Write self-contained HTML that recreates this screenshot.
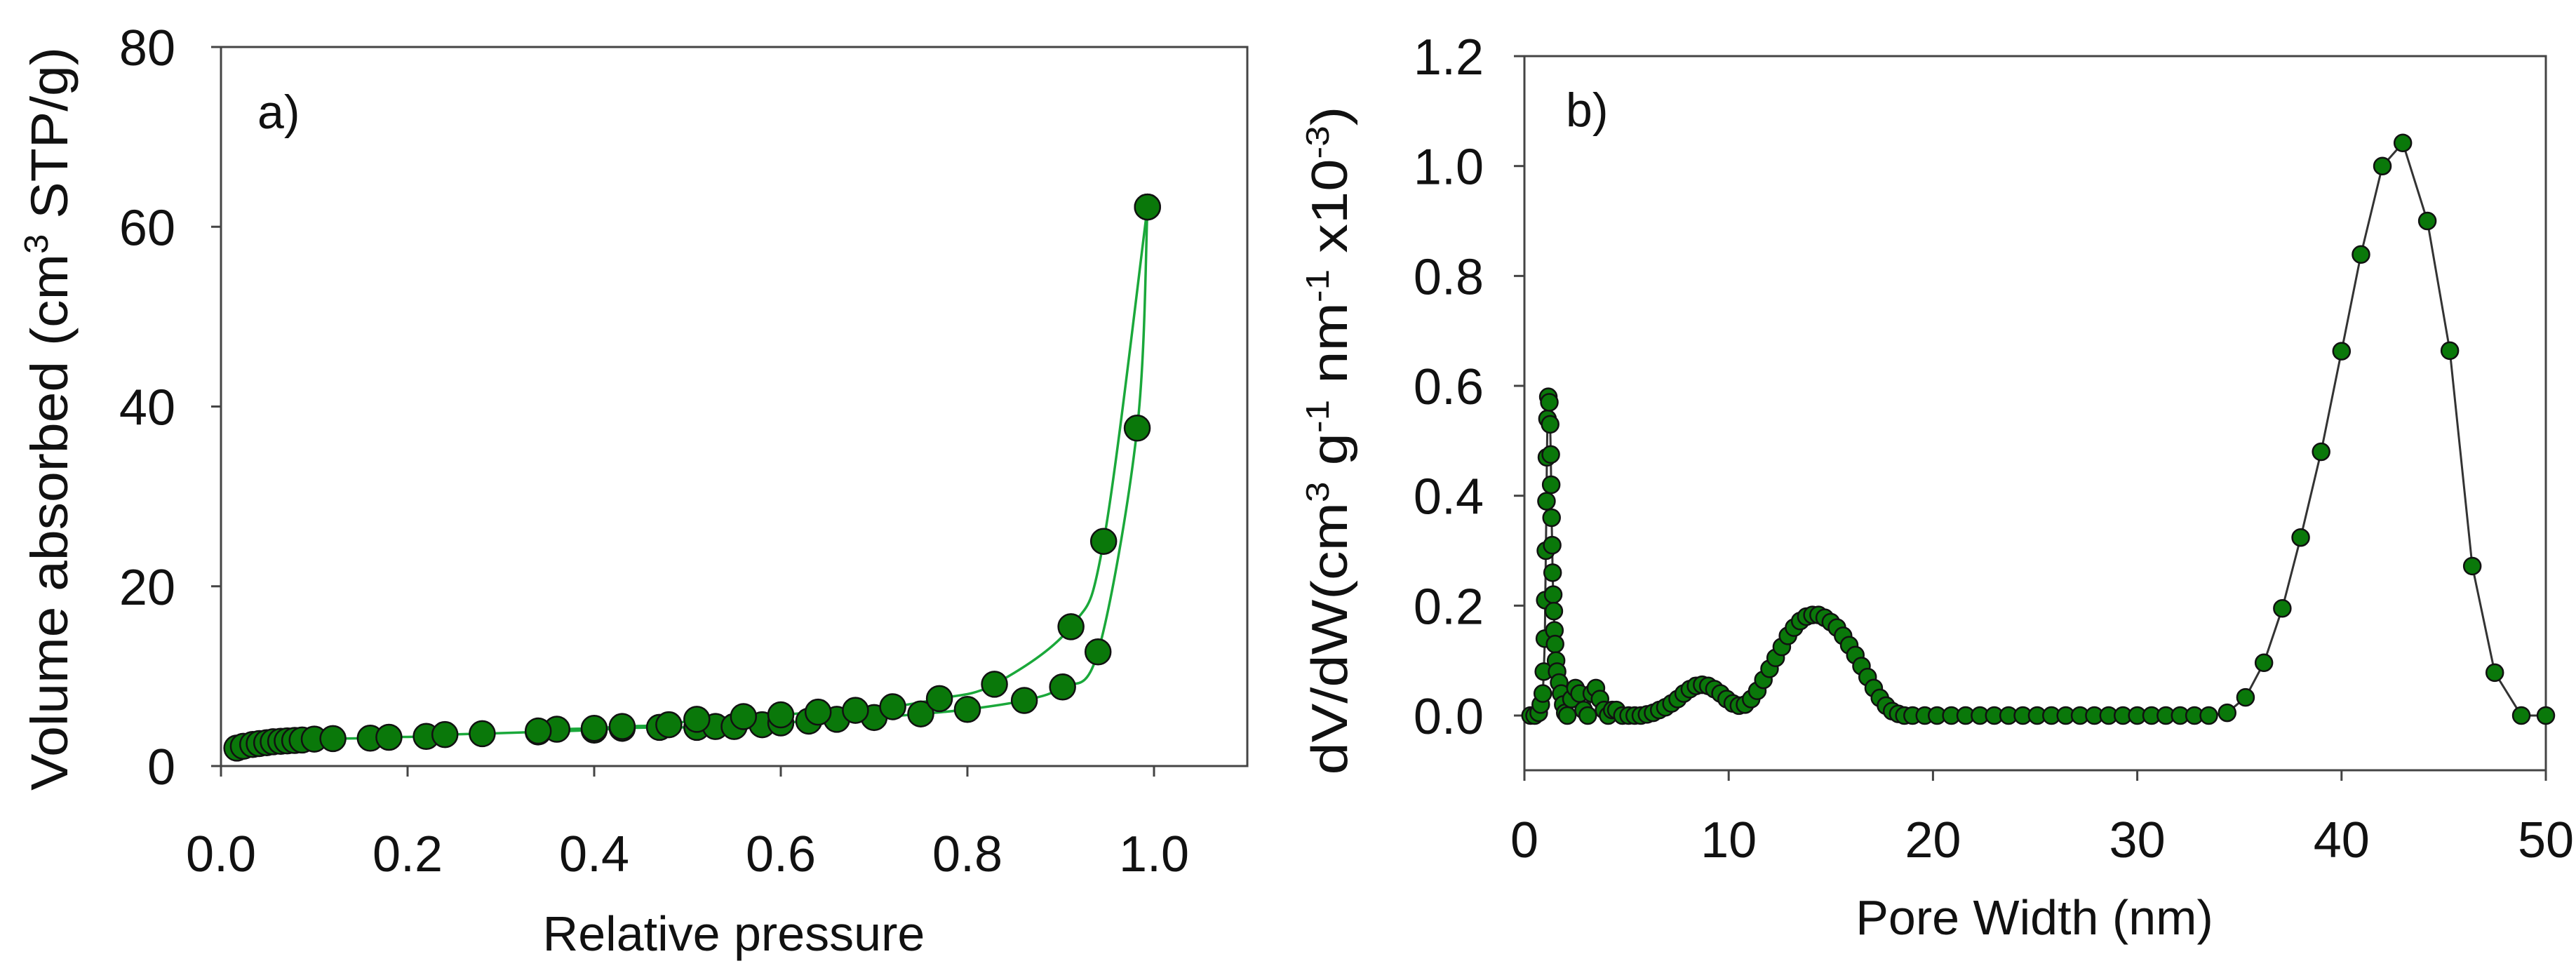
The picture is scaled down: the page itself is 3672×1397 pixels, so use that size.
<!DOCTYPE html>
<html><head><meta charset="utf-8">
<style>
html,body{margin:0;padding:0;background:#fff;}
svg{display:block;font-family:"Liberation Sans",Arial,sans-serif;}
</style></head>
<body>
<svg id="chart" width="3672" height="1397" viewBox="0 0 3672 1397" xmlns="http://www.w3.org/2000/svg">
<rect width="3672" height="1397" fill="#fff"/>
<g id="pa"></g>
<g id="pb"></g>
</svg>
<script>
// ---- Panel a data ----
const adsX = [0.017,0.024,0.034,0.041,0.049,0.056,0.064,0.071,0.079,0.087,0.10,0.12,0.16,0.18,0.22,0.24,0.28,0.34,0.40,0.43,0.47,0.51,0.53,0.55,0.58,0.60,0.63,0.66,0.70,0.75,0.80,0.861,0.902,0.940,0.982,0.993];
const adsY = [2.0,2.2,2.4,2.5,2.6,2.7,2.75,2.8,2.85,2.9,3.0,3.05,3.1,3.2,3.3,3.5,3.6,3.8,4.0,4.2,4.3,4.3,4.4,4.4,4.6,4.8,5.0,5.2,5.4,5.8,6.3,7.3,8.8,12.7,37.6,62.2];
const desX = [0.993,0.946,0.911,0.829,0.77,0.72,0.68,0.64,0.60,0.56,0.51,0.48,0.43,0.40,0.36,0.34];
const desY = [62.2,25,15.5,9.1,7.5,6.6,6.2,6.0,5.7,5.5,5.2,4.6,4.4,4.2,4.1,3.9];
const aXTicks = ["0.0","0.2","0.4","0.6","0.8","1.0"];
const aYTicks = ["0","20","40","60","80"];
// ---- Panel b data ----
const poreW = [0.3,0.5,0.7,0.8,0.9,0.95,1.0,1.02,1.05,1.08,1.1,1.13,1.17,1.22,1.26,1.29,1.31,1.33,1.36,1.38,1.41,1.44,1.47,1.5,1.55,1.6,1.7,1.8,1.9,2.0,2.1,2.3,2.5,2.7,2.9,3.1,3.3,3.5,3.7,3.9,4.1,4.3,4.5,4.8,5.1,5.4,5.7,6.0,6.3,6.6,6.9,7.2,7.5,7.8,8.1,8.4,8.7,9.0,9.3,9.6,9.9,10.2,10.5,10.8,11.1,11.4,11.7,12.0,12.3,12.6,12.9,13.2,13.5,13.8,14.1,14.4,14.7,15.0,15.3,15.6,15.9,16.2,16.5,16.8,17.1,17.4,17.7,18.0,18.3,18.6,19.0,19.6,20.2,20.9,21.6,22.3,23.0,23.7,24.4,25.1,25.8,26.5,27.2,27.9,28.6,29.3,30.0,30.7,31.4,32.1,32.8,33.5,34.4,35.3,36.2,37.1,38.0,39.0,40.0,40.95,42.0,43.0,44.2,45.3,46.4,47.5,48.8,50.0];
const dVdW = [0,0,0.005,0.02,0.04,0.08,0.14,0.21,0.3,0.39,0.47,0.54,0.58,0.57,0.53,0.475,0.42,0.36,0.31,0.26,0.22,0.19,0.155,0.13,0.1,0.08,0.06,0.04,0.02,0.005,0,0.03,0.05,0.04,0.01,0,0.04,0.05,0.03,0.01,0,0.01,0.01,0,0,0,0,0.002,0.005,0.01,0.015,0.022,0.03,0.04,0.048,0.054,0.056,0.054,0.048,0.04,0.03,0.022,0.018,0.02,0.03,0.045,0.065,0.085,0.105,0.125,0.145,0.16,0.172,0.18,0.183,0.183,0.178,0.17,0.16,0.145,0.128,0.11,0.09,0.07,0.05,0.032,0.018,0.008,0.003,0,0,0,0,0,0,0,0,0,0,0,0,0,0,0,0,0,0,0,0,0,0,0,0.005,0.033,0.096,0.195,0.324,0.48,0.663,0.839,1.0,1.042,0.90,0.664,0.272,0.078,0,0];
const bXTicks = ["0","10","20","30","40","50"];
const bYTicks = ["0.0","0.2","0.4","0.6","0.8","1.0","1.2"];

const NS="http://www.w3.org/2000/svg";
function mk(parent,tag,attrs,text){const e=document.createElementNS(NS,tag);for(const k in attrs)e.setAttribute(k,attrs[k]);if(text!==undefined)e.textContent=text;parent.appendChild(e);return e;}
function spline(pts){let d="M"+pts[0][0]+","+pts[0][1];for(let i=0;i<pts.length-1;i++){const p0=pts[Math.max(0,i-1)],p1=pts[i],p2=pts[i+1],p3=pts[Math.min(pts.length-1,i+2)];const t=0.5/3;const c1=[p1[0]+(p2[0]-p0[0])*t,p1[1]+(p2[1]-p0[1])*t];const c2=[p2[0]-(p3[0]-p1[0])*t,p2[1]-(p3[1]-p1[1])*t];d+=" C"+c1[0]+","+c1[1]+" "+c2[0]+","+c2[1]+" "+p2[0]+","+p2[1];}return d;}

// ---- Panel a ----
(function(){
const g=document.getElementById('pa');
const L=315,R=1778,T=67,B=1092;
const xs=v=>L+v/1.1*(R-L), ys=v=>B-v/80*(B-T);
const frame=mk(g,'rect',{x:L,y:T,width:R-L,height:B-T,fill:'none',stroke:'#444','stroke-width':3});


aXTicks.forEach(t=>{const x=xs(parseFloat(t));
 const tk=mk(g,'line',{x1:x,y1:B,x2:x,y2:B+15,stroke:'#444','stroke-width':3});
 
 const lb=mk(g,'text',{x:x,y:1242,'font-size':72,'text-anchor':'middle',fill:'#111'},t);
 });
aYTicks.forEach(t=>{const y=ys(parseFloat(t));
 const tk=mk(g,'line',{x1:L-14,y1:y,x2:L,y2:y,stroke:'#444','stroke-width':3});
 
 const lb=mk(g,'text',{x:250,y:y+26,'font-size':72,'text-anchor':'end',fill:'#111'},t);
 });
const xt=mk(g,'text',{x:1046,y:1355,'font-size':70,'text-anchor':'middle',fill:'#111'},'Relative pressure');

const yt=mk(g,'text',{transform:'translate(96,597) rotate(-90)','font-size':74,'text-anchor':'middle',fill:'#111','xml:space':'preserve',textLength:1060,lengthAdjust:'spacingAndGlyphs'});

yt.innerHTML='Volume  absorbed (cm<tspan font-size="48" dy="-28">3</tspan><tspan dy="28"> STP/g)</tspan>';
const pl=mk(g,'text',{x:367,y:183,'font-size':68,fill:'#111'},'a)');

const aP=adsX.map((v,i)=>[xs(v),ys(adsY[i])]);
const dP=desX.map((v,i)=>[xs(v),ys(desY[i])]);
const l1=mk(g,'path',{d:spline(aP),fill:'none',stroke:'#1aa83a','stroke-width':3.5});

const l2=mk(g,'path',{d:spline(dP),fill:'none',stroke:'#1aa83a','stroke-width':3.5});

aP.forEach(p=>{const c=mk(g,'circle',{cx:p[0],cy:p[1],r:18,fill:'#0a780a',stroke:'#111','stroke-width':2.5});
 });
dP.forEach(p=>{const c=mk(g,'circle',{cx:p[0],cy:p[1],r:18,fill:'#0a780a',stroke:'#111','stroke-width':2.5});
 });
})();

// ---- Panel b ----
(function(){
const g=document.getElementById('pb');
const L=2173,R=3629,T=80,B=1098;
const xs=v=>L+v/50*(R-L), ys=v=>1020-v*783.3;
const frame=mk(g,'rect',{x:L,y:T,width:R-L,height:B-T,fill:'none',stroke:'#444','stroke-width':3});


bXTicks.forEach(t=>{const x=xs(parseFloat(t));
 const tk=mk(g,'line',{x1:x,y1:B,x2:x,y2:B+15,stroke:'#444','stroke-width':3});
 
 const lb=mk(g,'text',{x:x,y:1222,'font-size':72,'text-anchor':'middle',fill:'#111'},t);
 });
bYTicks.forEach(t=>{const y=ys(parseFloat(t));
 const tk=mk(g,'line',{x1:L-15,y1:y,x2:L,y2:y,stroke:'#444','stroke-width':3});
 
 const lb=mk(g,'text',{x:2115,y:y+26,'font-size':72,'text-anchor':'end',fill:'#111'},t);
 });
const xt=mk(g,'text',{x:2900,y:1332,'font-size':70,'text-anchor':'middle',fill:'#111'},'Pore Width (nm)');

const yt=mk(g,'text',{transform:'translate(1920,628) rotate(-90)','font-size':72,'text-anchor':'middle',fill:'#111','xml:space':'preserve',textLength:953,lengthAdjust:'spacingAndGlyphs'});

yt.innerHTML='dV/dW(cm<tspan font-size="46" dy="-26">3</tspan><tspan dy="26"> g</tspan><tspan font-size="46" dy="-26">-1</tspan><tspan dy="26"> nm</tspan><tspan font-size="46" dy="-26">-1</tspan><tspan dy="26"> x10</tspan><tspan font-size="46" dy="-26">-3</tspan><tspan dy="26">)</tspan>';
const pl=mk(g,'text',{x:2232,y:180,'font-size':68,fill:'#111'},'b)');

const P=poreW.map((v,i)=>[xs(v),ys(dVdW[i])]);
const ln=mk(g,'polyline',{points:P.map(p=>p.join(',')).join(' '),fill:'none',stroke:'#333','stroke-width':3});

P.forEach(p=>{const c=mk(g,'circle',{cx:p[0],cy:p[1],r:12,fill:'#0a780a',stroke:'#111','stroke-width':2.5});
 });
})();
</script>
</body></html>
